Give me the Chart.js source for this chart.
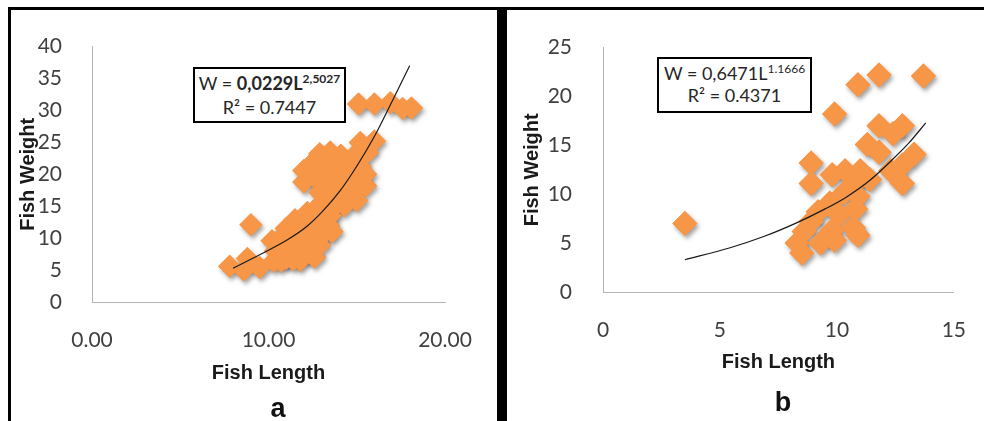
<!DOCTYPE html>
<html>
<head>
<meta charset="utf-8">
<script src="https://cdn.jsdelivr.net/npm/chart.js@4.4.0/dist/chart.umd.min.js"></script>
<style>
    body { margin: 0; background: #fff; }
    #page { position: relative; width: 984px; height: 421px; overflow: hidden; background: #fff; }
    canvas { position: absolute; }
    .rule { position: absolute; background: #000; z-index: 3; }
    .eq {
        position: absolute; z-index: 2; box-sizing: border-box;
        border: 2px solid #000; background: #fff;
        font-family: Lato, sans-serif; color: #262626; text-align: center; white-space: nowrap;
    }
    .eq sup { font-size: 12px; line-height: 0; vertical-align: 7px; }
    .tag {
        position: absolute; width: 40px; text-align: center; line-height: 1;
        font-family: "Liberation Sans", Arial, sans-serif; font-weight: bold; font-size: 27px; color: #111;
    }
</style>
</head>
<body>
<div id="page">
    <canvas id="chartA" width="487" height="409" style="left:10px;top:12px"></canvas>
    <canvas id="chartB" width="477" height="409" style="left:507px;top:12px"></canvas>

    <div class="rule" style="left:8px;top:7px;width:976px;height:3px"></div>
    <div class="rule" style="left:8px;top:7px;width:3px;height:414px"></div>
    <div class="rule" style="left:497px;top:7px;width:10px;height:414px"></div>

    <div class="eq" style="left:193px;top:67px;width:153px;height:56px;font-size:18px;line-height:24px;padding-top:2px">
        W = <b>0,0229L<sup>2,5027</sup></b><br>R² = 0.7447
    </div>
    <div class="eq" style="left:657px;top:57px;width:155px;height:56px;font-size:18px;line-height:22px;padding-top:3px">
        W = 0,6471L<sup>1.1666</sup><br>R² = 0.4371
    </div>

    <div class="tag" style="left:258px;top:395px">a</div>
    <div class="tag" style="left:763px;top:389px">b</div>
</div>

<script>
// ---- panel a: length / weight samples ----
const lenA = [7.8, 8.6, 8.8, 9.0, 9.5, 10.3, 10.4, 10.2, 10.9, 11.0, 11.3, 11.5, 11.8, 11.9,
    12.1, 12.3, 12.4, 12.6, 12.9, 13.1, 13.0, 13.4, 12.0, 12.0, 12.9, 13.2, 13.0, 13.3, 13.6,
    13.9, 14.0, 14.2, 14.3, 14.6, 14.7, 15.0, 15.2, 15.0, 15.5, 15.2, 16.0, 15.6,
    15.1, 16.0, 16.9, 17.6, 18.1,
    10.6, 11.2, 11.6, 11.0, 11.8, 12.0, 12.6, 12.7, 12.2, 12.8, 13.0, 13.5, 13.6, 10.7, 11.4,
    12.5, 12.5, 13.5, 13.6, 14.1, 14.8, 13.9, 14.5, 15.5, 12.9, 14.4];
const wtA = [5.6, 5.0, 6.8, 12.1, 5.4, 6.4, 8.0, 9.6, 10.6, 6.8, 8.4, 12.9, 6.5, 10.1,
    7.8, 9.2, 11.8, 7.0, 8.9, 10.6, 12.9, 12.0, 18.8, 20.6, 23.2, 21.0, 19.0, 16.6, 14.6,
    22.0, 18.1, 20.0, 15.1, 21.6, 17.1, 19.5, 21.2, 15.9, 18.2, 25.0, 25.2, 23.4,
    31.0, 31.0, 31.2, 30.3, 30.4,
    9.0, 10.0, 9.5, 11.5, 11.5, 13.0, 10.5, 12.5, 14.0, 14.5, 15.5, 13.5, 11.0, 6.4, 6.6,
    19.8, 21.8, 23.5, 19.5, 23.0, 22.8, 16.0, 18.8, 20.0, 17.2, 16.8];
// trend curve
const trendLenA = [8.0, 9.5, 11.05, 12.2, 13.1, 14.05, 14.8, 15.6, 16.15, 17.3, 18.0];
const trendWtA = [5.3, 7.4, 9.7, 11.9, 14.3, 17.4, 20.4, 24.0, 26.7, 33.1, 37.0];
const xTicksA = [0, 10, 20];
const xLabelsA = ["0.00", "10.00", "20.00"];
const yTicksA = [0, 5, 10, 15, 20, 25, 30, 35, 40];

// ---- panel b ----
const lenB = [3.5, 10.9, 11.8, 13.7, 9.9, 11.8, 12.8, 12.4, 11.3, 11.8, 13.3, 12.8, 12.3, 12.8,
    8.9, 8.9, 9.8, 10.35, 11.0, 10.8, 11.4, 10.3, 10.9, 9.7, 9.2, 10.8, 10.1, 8.9, 10.7, 9.8,
    10.9, 8.6, 8.3, 8.5, 9.3, 9.9];
const wtB = [7.0, 21.2, 22.2, 22.1, 18.2, 17.0, 17.0, 16.2, 15.1, 14.3, 14.1, 13.0, 12.4, 11.1,
    13.2, 11.1, 12.0, 12.4, 12.4, 11.2, 11.5, 10.1, 9.8, 9.1, 8.2, 8.5, 7.9, 7.2, 6.6, 6.3,
    5.8, 6.2, 5.0, 4.0, 5.0, 5.3];
const trendLenB = [3.5, 5.4, 6.9, 8.3, 9.5, 10.4, 11.4, 12.4, 13.1, 13.8];
const trendWtB = [3.3, 4.5, 5.7, 7.1, 8.5, 9.7, 11.4, 13.6, 15.3, 17.3];
const xTicksB = [0, 5, 10, 15];
const yTicksB = [0, 5, 10, 15, 20, 25];

const ORANGE = "#F79646";
const TICK_FONT = { family: "Lato", size: 21 };
const TITLE_FONT = { family: "Liberation Sans", size: 20, weight: "bold" };

// soft drop shadow behind the whole marker cloud: draw the markers once with a
// shadow, then the normal pass paints over it so shadows never fall on markers
const markerShadow = {
    id: "markerShadow",
    beforeDatasetDraw(chart, args) {
        if (!chart.data.datasets[args.index].shadow) return;
        const ctx = chart.ctx;
        ctx.save();
        ctx.shadowColor = "rgba(70,70,70,0.5)";
        ctx.shadowBlur = 4;
        ctx.shadowOffsetX = 2;
        ctx.shadowOffsetY = 3;
        args.meta.controller.draw();
        ctx.restore();
    }
};

function pairs(xs, ys) {
    return xs.map((x, i) => ({ x: x, y: ys[i] }));
}

function makeChart(id, o) {
    return new Chart(document.getElementById(id), {
        type: "scatter",
        data: {
            datasets: [
                {
                    data: pairs(o.trendX, o.trendY),
                    showLine: true,
                    borderColor: "#1a1a1a",
                    borderWidth: 1.2,
                    pointRadius: 0,
                    cubicInterpolationMode: "monotone",
                    clip: false
                },
                {
                    data: pairs(o.xs, o.ys),
                    pointStyle: "rectRot",
                    pointRadius: o.radius,
                    backgroundColor: ORANGE,
                    borderWidth: 0,
                    shadow: true,
                    clip: false
                }
            ]
        },
        options: {
            responsive: false,
            animation: false,
            devicePixelRatio: 1,
            layout: { padding: o.pad },
            plugins: { legend: { display: false }, tooltip: { enabled: false } },
            scales: {
                x: {
                    min: o.xTicks[0],
                    max: o.xTicks[o.xTicks.length - 1],
                    afterBuildTicks: s => { s.ticks = o.xTicks.map(v => ({ value: v })); },
                    afterFit: s => { s.height = o.xHeight; },
                    grid: { display: false },
                    border: { color: "#b4b4b4", width: 1 },
                    ticks: {
                        font: TICK_FONT, color: "#404040", padding: 18, maxRotation: 0, autoSkip: false,
                        callback: (v, i) => o.xLabels[i]
                    },
                    title: { display: true, text: "Fish Length", font: TITLE_FONT, color: "#1a1a1a",
                        padding: { top: 0, bottom: o.xTitlePad } }
                },
                y: {
                    min: o.yTicks[0],
                    max: o.yTicks[o.yTicks.length - 1],
                    afterBuildTicks: s => { s.ticks = o.yTicks.map(v => ({ value: v })); },
                    afterFit: s => { s.width = o.yWidth; },
                    grid: { display: false },
                    border: { color: "#b4b4b4", width: 1 },
                    ticks: { font: TICK_FONT, color: "#404040", padding: o.yTickPad },
                    title: { display: true, text: "Fish Weight", font: TITLE_FONT, color: "#1a1a1a",
                        padding: { top: o.yTitlePad, bottom: 0 } }
                }
            }
        },
        plugins: [markerShadow]
    });
}

makeChart("chartA", {
    xs: lenA, ys: wtA, trendX: trendLenA, trendY: trendWtA, radius: 11.5,
    xTicks: xTicksA, xLabels: xLabelsA, yTicks: yTicksA,
    pad: { top: 25, right: 52, bottom: 19, left: 0 },
    xHeight: 100, yWidth: 82, xTitlePad: 17, yTickPad: 22, yTitlePad: 6
});

makeChart("chartB", {
    xs: lenB, ys: wtB, trendX: trendLenB, trendY: trendWtB, radius: 12.5,
    xTicks: xTicksB, xLabels: xTicksB.map(String), yTicks: yTicksB,
    pad: { top: 20, right: 29, bottom: 19, left: 0 },
    xHeight: 110, yWidth: 96, xTitlePad: 28, yTickPad: 23, yTitlePad: 13
});
</script>
</body>
</html>
